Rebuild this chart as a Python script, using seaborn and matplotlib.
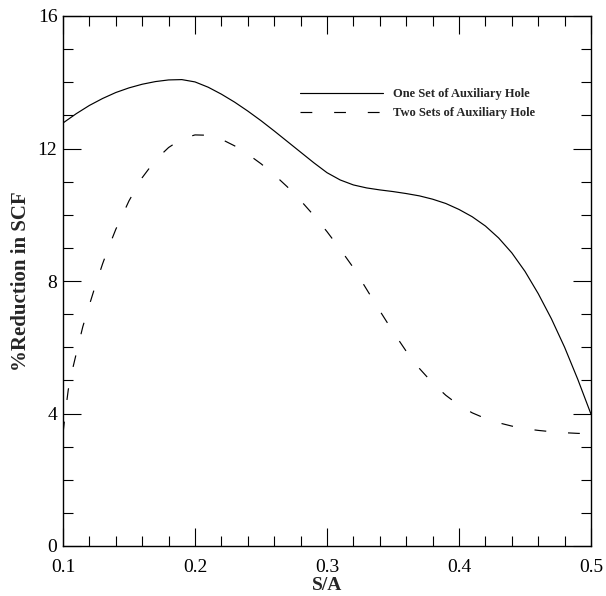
import numpy as np
import pandas as pd
import matplotlib
matplotlib.use("Agg")
import matplotlib.pyplot as plt
import seaborn as sns
from matplotlib.ticker import MultipleLocator

sns.set_style("ticks")
plt.rcParams['font.family'] = ['Liberation Serif', 'DejaVu Serif']

# Data
sa_one = [0.10, 0.11, 0.12, 0.13, 0.14, 0.15, 0.16, 0.17, 0.18, 0.19, 0.20,
          0.21, 0.22, 0.23, 0.24, 0.25, 0.26, 0.27, 0.28, 0.29, 0.30,
          0.31, 0.32, 0.33, 0.34, 0.35, 0.36, 0.37, 0.38, 0.39, 0.40,
          0.41, 0.42, 0.43, 0.44, 0.45, 0.46, 0.47, 0.48, 0.49, 0.50]
red_one = [12.77, 13.05, 13.30, 13.51, 13.69, 13.83, 13.94, 14.02, 14.07, 14.08, 14.01,
           13.85, 13.64, 13.40, 13.13, 12.84, 12.53, 12.21, 11.89, 11.57, 11.27,
           11.05, 10.90, 10.81, 10.75, 10.70, 10.64, 10.57, 10.47, 10.34, 10.16,
           9.94, 9.66, 9.30, 8.85, 8.29, 7.62, 6.86, 6.00, 5.03, 3.98]

sa_two = [0.100, 0.102, 0.104, 0.107, 0.110, 0.115, 0.120, 0.125, 0.130, 0.135,
          0.140, 0.150, 0.160, 0.170, 0.180, 0.190, 0.200, 0.210, 0.220, 0.230,
          0.240, 0.250, 0.260, 0.270, 0.280, 0.290, 0.300, 0.310, 0.320, 0.330,
          0.340, 0.350, 0.360, 0.370, 0.380, 0.390, 0.400, 0.410, 0.420, 0.430,
          0.440, 0.450, 0.460, 0.470, 0.480, 0.490, 0.500]
red_two = [3.40, 4.10, 4.72, 5.30, 5.80, 6.62, 7.28, 7.92, 8.52, 9.06,
           9.56, 10.42, 11.12, 11.65, 12.03, 12.29, 12.41, 12.40, 12.28, 12.08,
           11.83, 11.54, 11.21, 10.84, 10.43, 9.98, 9.49, 8.96, 8.40, 7.75,
           7.10, 6.47, 5.88, 5.36, 4.92, 4.55, 4.25, 4.02, 3.85, 3.72,
           3.62, 3.54, 3.49, 3.45, 3.42, 3.40, 3.39]

label_one = "One Set of Auxiliary Hole"
label_two = "Two Sets of Auxiliary Hole"
x_ticks = [0.1, 0.2, 0.3, 0.4, 0.5]
x_ticklabels = ["0.1", "0.2", "0.3", "0.4", "0.5"]
y_ticks = [0, 4, 8, 12, 16]
y_ticklabels = ["0", "4", "8", "12", "16"]

fig = plt.figure(figsize=(6.06, 5.96), dpi=100)
ax = fig.add_axes([63/606, 1 - 546/596, (591-63)/606, (546-16)/596])

df_one = pd.DataFrame({"S/A": sa_one, "red": red_one})
df_two = pd.DataFrame({"S/A": sa_two, "red": red_two})

sns.lineplot(data=df_one, x="S/A", y="red", ax=ax, color="black", lw=0.85,
             label=label_one, legend=False)
sns.lineplot(data=df_two, x="S/A", y="red", ax=ax, color="black", lw=0.85,
             label=label_two, legend=False)
for ln in ax.lines:
    ln.set_solid_joinstyle("round")
    ln.set_dash_joinstyle("round")
ax.lines[1].set_dashes((10.0, 18.5))

ax.set_xlim(0.1, 0.5)
ax.set_ylim(0, 16)
ax.set_xticks(x_ticks)
ax.set_xticklabels(x_ticklabels)
ax.set_yticks(y_ticks)
ax.set_yticklabels(y_ticklabels)
ax.xaxis.set_minor_locator(MultipleLocator(0.02))
ax.yaxis.set_minor_locator(MultipleLocator(1))

ax.tick_params(which="both", direction="in", top=True, right=True,
               colors="black", width=0.8)
ax.tick_params(which="major", length=13)
ax.tick_params(which="minor", length=7)
ax.tick_params(axis="x", which="major", labelsize=14, pad=9)
ax.tick_params(axis="y", which="major", labelsize=14, pad=4)

for s in ax.spines.values():
    s.set_visible(True)
    s.set_linewidth(1.0)
    s.set_color("black")

ax.set_xlabel("S/A", fontsize=14, fontweight="bold", labelpad=1)
ax.set_ylabel("%Reduction in SCF", fontsize=15, fontweight="bold", labelpad=5)

leg = ax.legend(loc="upper left", bbox_to_anchor=(0.449, 0.864), frameon=False,
                prop={"weight": "bold", "size": 9},
                handlelength=6.6, handletextpad=0.8, labelspacing=0.55,
                borderpad=0, borderaxespad=0)

fig.savefig("out.png", dpi=100)
